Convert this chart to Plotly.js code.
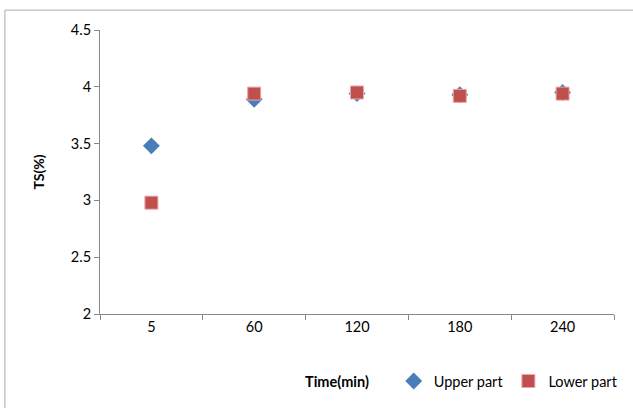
<!DOCTYPE html>
<html>
<head>
<meta charset="utf-8">
<script src="https://cdn.plot.ly/plotly-3.0.1.min.js"></script>
<style>html,body{margin:0;padding:0;background:#fff;}#chart{width:633px;height:408px;}</style>
</head>
<body>
<div id="chart"></div>
<script>
const categories = ["5", "60", "120", "180", "240"];
const upperPart = [3.48, 3.89, 3.94, 3.93, 3.95];
const lowerPart = [2.98, 3.94, 3.95, 3.92, 3.94];
const yTicks = [2, 2.5, 3, 3.5, 4, 4.5];
const yTickLabels = ["2", "2.5", "3", "3.5", "4", "4.5"];
const xTitle = "Time(min)";
const yTitle = "TS(%)";

const font = "Lato, 'Open Sans', sans-serif";

const traces = [
  {
    type: "scatter", mode: "markers", name: "Upper part",
    x: categories, y: upperPart,
    marker: {symbol: "diamond", size: 13, color: "#4a7ebb", line: {width: 0}}
  },
  {
    type: "scatter", mode: "markers", name: "Lower part",
    x: categories, y: lowerPart,
    marker: {symbol: "square", size: 13, color: "#c0504d", line: {width: 1, color: "#e8a8a6"}}
  }
];

const layout = {
  width: 633, height: 408,
  margin: {l: 100, r: 19, t: 30, b: 94},
  paper_bgcolor: "#ffffff", plot_bgcolor: "#ffffff",
  font: {family: font, size: 14, color: "#000"},
  showlegend: true,
  legend: {
    orientation: "h", xref: "container", yref: "container",
    x: 0.622, xanchor: "left", y: 0.066, yanchor: "middle",
    font: {family: font, size: 14.5, color: "#000"},
    itemwidth: 30, tracegroupgap: 0, bgcolor: "rgba(0,0,0,0)"
  },
  xaxis: {
    type: "category", categoryorder: "array", categoryarray: categories,
    range: [-0.5, 4.5], autorange: false,
    showgrid: false, zeroline: false,
    showline: true, linecolor: "#888", linewidth: 1,
    ticks: "outside", tickson: "boundaries", ticklen: 5, tickcolor: "#888",
    tickfont: {family: font, size: 14.5, color: "#000"}
  },
  yaxis: {
    range: [2, 4.5], autorange: false, tickvals: yTicks, ticktext: yTickLabels,
    showgrid: false, zeroline: false,
    showline: true, linecolor: "#888", linewidth: 1,
    ticks: "outside", ticklen: 5, tickcolor: "#888",
    tickfont: {family: font, size: 14.5, color: "#000"},
    title: {text: "<b>" + yTitle + "</b>", font: {family: font, size: 14, color: "#000"}, standoff: 22}
  },
  annotations: [{
    text: "<b>" + xTitle + "</b>", xref: "paper", yref: "paper",
    x: 0.461, y: -0.236, xanchor: "center", yanchor: "middle", showarrow: false,
    font: {family: font, size: 14.5, color: "#000"}
  }],
  shapes: [{
    type: "rect", xref: "paper", yref: "paper",
    x0: -0.185, x1: 1.2, y0: -0.5, y1: 1.07,
    line: {color: "#aaaaaa", width: 1}, fillcolor: "rgba(0,0,0,0)", layer: "below"
  }]
};

Plotly.newPlot("chart", traces, layout, {displayModeBar: false, staticPlot: true});
</script>
</body>
</html>
